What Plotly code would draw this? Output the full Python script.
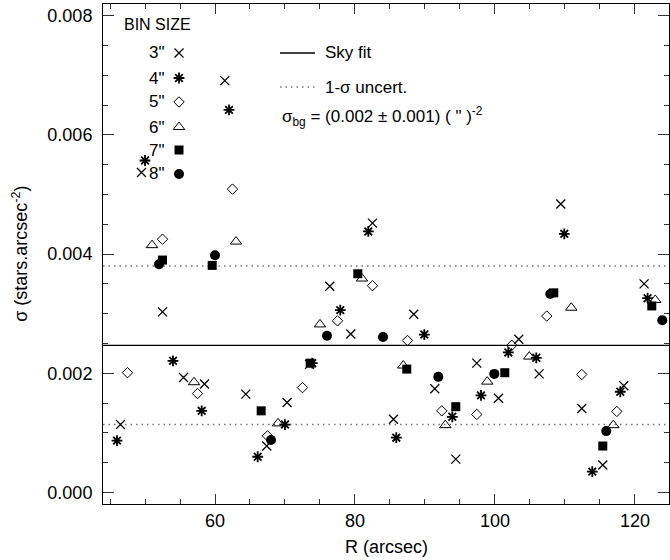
import plotly.graph_objects as go

# ---- data (R in arcsec, sigma in stars/arcsec^2) ----
r3 = [46.5, 49.5, 52.5, 55.5, 58.5, 61.4, 64.4, 67.4, 70.3, 73.5, 76.4, 79.4, 82.5,
      85.5, 88.4, 91.4, 94.4, 97.4, 100.5, 103.4, 106.3, 109.4, 112.4, 115.4, 118.4, 121.3]
s3 = [0.00114, 0.00537, 0.00303, 0.00193, 0.00182, 0.00691, 0.00165, 0.00078, 0.00151, 0.00215,
      0.00346, 0.00266, 0.00452, 0.00123, 0.00299, 0.00174, 0.00056, 0.00217, 0.00158, 0.00257,
      0.00199, 0.00484, 0.00141, 0.00046, 0.00179, 0.00350]

r4 = [46.0, 50.0, 54.0, 58.1, 62.0, 66.1, 70.0, 73.9, 77.9, 81.9, 85.9, 89.9, 93.9,
      98.0, 101.9, 105.9, 109.9, 113.9, 117.9, 121.8]
s4 = [0.00087, 0.00557, 0.00221, 0.00137, 0.00642, 0.00060, 0.00114, 0.00217, 0.00306, 0.00438,
      0.00092, 0.00265, 0.00127, 0.00163, 0.00235, 0.00226, 0.00434, 0.00035, 0.00169, 0.00326]

r5 = [47.5, 52.5, 57.5, 62.5, 67.5, 72.5, 77.5, 82.5, 87.5, 92.4, 97.4, 102.4, 107.4, 112.4, 117.4]
s5 = [0.00201, 0.00425, 0.00166, 0.00509, 0.00095, 0.00176, 0.00288, 0.00347, 0.00255, 0.00137,
      0.00131, 0.00247, 0.00296, 0.00198, 0.00136]

r6 = [51.0, 57.0, 63.0, 69.0, 75.0, 81.0, 86.9, 92.9, 98.9, 104.9, 110.9, 116.9, 122.9]
s6 = [0.00415, 0.00185, 0.00421, 0.00116, 0.00282, 0.00359, 0.00213, 0.00113, 0.00186, 0.00228,
      0.00310, 0.00113, 0.00323]

r7 = [52.5, 59.6, 66.6, 73.6, 80.4, 87.4, 94.4, 101.4, 108.4, 115.4, 122.4]
s7 = [0.00390, 0.00381, 0.00137, 0.00217, 0.00367, 0.00207, 0.00144, 0.00201, 0.00335, 0.00078, 0.00313]

r8 = [52.0, 60.0, 68.0, 76.0, 84.0, 91.9, 99.9, 107.9, 115.9, 123.9]
s8 = [0.00383, 0.00398, 0.00088, 0.00263, 0.00261, 0.00194, 0.00199, 0.00333, 0.00103, 0.00289]

sky_fit = 0.00247
sky_err = 0.00133
x_range = [44.0, 124.86]
y_range = [-0.000193, 0.008196]

bin_labels = ['3"', '4"', '5"', '6"', '7"', '8"']

FONT = "Liberation Sans, Arial, Helvetica, sans-serif"

styles = [
    dict(symbol="x-thin-open", size=9, line=dict(width=1.3, color="black"), color="black"),
    dict(symbol="asterisk-open", size=9, line=dict(width=1.8, color="black"), color="black"),
    dict(symbol="diamond-open", size=8, line=dict(width=1, color="black"), color="black"),
    dict(symbol="triangle-up-open", size=10, line=dict(width=1, color="black"), color="black"),
    dict(symbol="square", size=9, line=dict(width=0), color="black"),
    dict(symbol="circle", size=10, line=dict(width=0), color="black"),
]

fig = go.Figure()

# reference lines
fig.add_trace(go.Scatter(x=x_range, y=[sky_fit, sky_fit], mode="lines",
                         line=dict(color="black", width=1.3), showlegend=False, hoverinfo="skip"))
for yv in (sky_fit + sky_err, sky_fit - sky_err):
    fig.add_trace(go.Scatter(x=x_range, y=[yv, yv], mode="lines",
                             line=dict(color="#777", width=1.5, dash="1.5px,4px"),
                             showlegend=False, hoverinfo="skip"))

series = [(r3, s3), (r4, s4), (r5, s5), (r6, s6), (r7, s7), (r8, s8)]
for (rx, sy), st, lab in zip(series, styles, bin_labels):
    fig.add_trace(go.Scatter(x=rx, y=sy, mode="markers", marker=st, name=lab, showlegend=False))

# ---- custom legend (overlay axes spanning 0..1) ----
leg_x = 0.1343
leg_rows = [0.902, 0.852, 0.804, 0.754, 0.708, 0.66]
for st, yy, lab in zip(styles, leg_rows, bin_labels):
    fig.add_trace(go.Scatter(x=[leg_x], y=[yy], mode="markers", marker=st, xaxis="x2", yaxis="y2",
                             showlegend=False, hoverinfo="skip"))

annotations = [
    dict(text="BIN SIZE", x=0.0336, y=0.96, xanchor="left", yanchor="middle", font=dict(size=16)),
]
for yy, lab in zip(leg_rows, bin_labels):
    annotations.append(dict(text=lab, x=0.113, y=yy, xanchor="right", yanchor="middle", font=dict(size=17)))
annotations += [
    dict(text="Sky fit", x=0.3887, y=0.902, xanchor="left", yanchor="middle", font=dict(size=17)),
    dict(text="1-σ uncert.", x=0.3887, y=0.834, xanchor="left", yanchor="middle", font=dict(size=17)),
    dict(text='σ<sub>bg</sub> = (0.002 ± 0.001) ( " )<sup>-2</sup>', x=0.3127, y=0.774,
         xanchor="left", yanchor="middle", font=dict(size=17)),
    dict(text="R (arcsec)", x=0.5, y=-0.086, xanchor="center", yanchor="middle", font=dict(size=18)),
    dict(text="σ (stars.arcsec<sup>-2</sup>)", x=-0.147, y=0.5, xanchor="center", yanchor="middle",
         textangle=-90, font=dict(size=18)),
]
for a in annotations:
    a.update(xref="paper", yref="paper", showarrow=False)

shapes = [
    dict(type="line", xref="paper", yref="paper", x0=0.3127, x1=0.3746, y0=0.902, y1=0.902,
         line=dict(color="black", width=1.3)),
    dict(type="line", xref="paper", yref="paper", x0=0.3127, x1=0.3746, y0=0.834, y1=0.834,
         line=dict(color="#777", width=1.5, dash="1.5px,4px")),
]

axis_common = dict(showgrid=False, zeroline=False, showline=True, linecolor="black", linewidth=1,
                   mirror="ticks", ticks="inside", tickcolor="#333", tickwidth=1,
                   tickfont=dict(size=18, color="black"))

fig.update_layout(
    width=670, height=560,
    margin=dict(l=103, r=1, t=4, b=56),
    paper_bgcolor="white", plot_bgcolor="white",
    font=dict(family=FONT, color="black"),
    xaxis=dict(range=x_range, tick0=0, dtick=20, ticklen=10,
               minor=dict(dtick=5, ticklen=5, ticks="inside", tickcolor="#333"), **axis_common),
    yaxis=dict(range=y_range, tick0=0, dtick=0.002, tickformat=".3f", ticklen=11,
               ticklabelstandoff=6,
               minor=dict(dtick=0.0005, ticklen=5, ticks="inside", tickcolor="#333"), **axis_common),
    xaxis2=dict(overlaying="x", range=[0, 1], visible=False, fixedrange=True),
    yaxis2=dict(overlaying="y", range=[0, 1], visible=False, fixedrange=True),
    annotations=annotations, shapes=shapes,
    showlegend=False,
)

fig.write_html("out.html")
